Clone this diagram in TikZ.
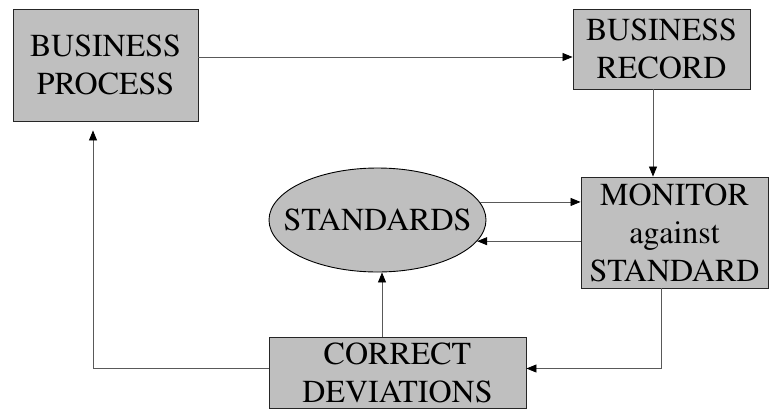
\documentclass[tikz,border=0pt]{standalone}
\usepackage[T1]{fontenc}
\usepackage{mathptmx}
\usetikzlibrary{shapes.geometric,arrows.meta}
\begin{document}
\begin{tikzpicture}
[
x=1pt, y=-1pt,
stagebox/.style={rectangle, draw=black!85, fill=black!25, line width=0.9pt, inner sep=0, align=center, font=\fontsize{32}{38}\selectfont},
stdellipse/.style={ellipse, draw=black, fill=black!25, line width=0.9pt, inner sep=0, minimum width=217pt, minimum height=104pt, font=\fontsize{32}{38}\selectfont},
flow/.style={draw=black!65, line width=0.8pt, -{Triangle[length=10pt,width=8pt,color=black]}}
]
\useasboundingbox (0,0) rectangle (773,410);
%Nodes
\node[stagebox, minimum width=185pt, minimum height=112pt] at(105.5,65)	(bp) {BUSINESS\\PROCESS};
\node[stagebox, minimum width=177pt, minimum height=80pt] at(661.5,49)	(br) {BUSINESS\\RECORD};
\node[stagebox, minimum width=187pt, minimum height=111pt] at(674.5,232.5)	(mon) {MONITOR\\against\\STANDARD};
\node[stdellipse] at(377.5,220)	(std) {\makebox[0pt]{STANDARDS}};
\node[stagebox, minimum width=257pt, minimum height=71pt] at(397.5,372.5)	(cd) {CORRECT\\DEVIATIONS};
%Connectors
\draw[flow] ([yshift=8pt]bp.east) -- ([yshift=8pt]bp.east -| br.west);
\draw[flow] ([xshift=-8.5pt]br.south) -- ([xshift=-8.5pt]br.south |- mon.north);
\draw[flow] (std.10.7) -- (std.10.7 -| mon.west);
\draw[flow] (std.-12 -| mon.west) -- (std.-12);
\draw[flow] ([xshift=-15.5pt]cd.north) -- ([xshift=4.5pt]std.south);
\draw[flow] ([xshift=-13.5pt]mon.south) |- ([yshift=4pt]cd.east);
\draw[flow, shorten >=9pt] ([yshift=4pt]cd.west) -| ([xshift=-12.5pt]bp.south);
\end{tikzpicture}
\end{document}
